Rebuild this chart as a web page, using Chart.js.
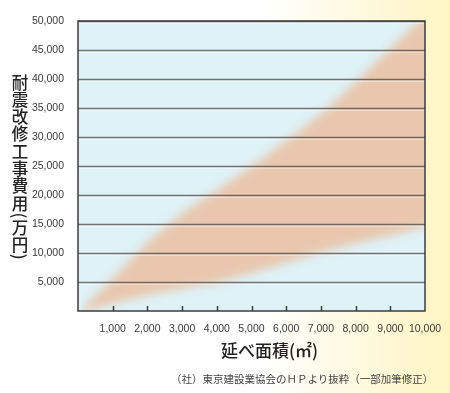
<!DOCTYPE html>
<html>
<head>
<meta charset="utf-8">
<script src="https://cdn.jsdelivr.net/npm/chart.js@4"></script>
<style>
  html, body { margin: 0; padding: 0; }
  body {
    width: 450px; height: 393px; overflow: hidden; position: relative;
    background: linear-gradient(to right, #ffffff 0%, #ffffff 58%, #fff4c2 100%);
    font-family: "Noto Sans CJK JP", sans-serif;
  }
  .chart-wrap { position: absolute; left: 0; top: 0; width: 450px; height: 393px; }
  .y-title {
    position: absolute; left: 11px; top: 74px;
    writing-mode: vertical-rl; font-size: 16.5px; line-height: 18px; letter-spacing: 0.8px;
    color: #222; font-weight: 500;
  }
  .x-title { position: absolute; left: 221px; top: 339px; font-size: 17px; line-height: 22px; color: #222; font-weight: 500; }
  .source { position: absolute; left: 171px; top: 371px; font-size: 10.5px; line-height: 16px; color: #444; }
</style>
</head>
<body>
<div class="chart-wrap"><canvas id="costChart"></canvas></div>
<div class="y-title">耐震改修工事費用(万円)</div>
<div class="x-title">延べ面積(㎡)</div>
<div class="source">（社）東京建設業協会のＨＰより抜粋（一部加筆修正）</div>

<script>
// floor area (m2) and estimated cost range (10k yen)
const areaX     = [100, 1000, 2000, 3000, 4000, 5000, 6000, 7000, 8000, 9000, 10000, 10600];
const upperCost = [300, 5600, 11800, 16800, 20800, 25000, 29400, 34000, 39500, 45300, 51000, 54000];
const lowerCost = [-300, 1300, 2700, 3900, 4900, 6500, 8300, 10100, 11600, 13000, 14500, 15300];
const yTicks = [5000, 10000, 15000, 20000, 25000, 30000, 35000, 40000, 45000, 50000];
const xTicks = [1000, 2000, 3000, 4000, 5000, 6000, 7000, 8000, 9000];

const toPoints = (ys) => areaX.map((x, i) => ({ x: x, y: ys[i] }));

const frame = {
  id: "frame",
  beforeDraw(chart) {
    const { ctx, chartArea: a } = chart;
    ctx.save();
    ctx.fillStyle = "#dff2f8";
    ctx.fillRect(a.left, a.top, a.right - a.left, a.bottom - a.top);
    ctx.restore();
  },
  beforeDatasetsDraw(chart) {
    chart.ctx.save();
    chart.ctx.filter = "blur(5px)";
  },
  afterDatasetsDraw(chart) {
    const { ctx, chartArea: a, scales } = chart;
    ctx.restore();
    ctx.save();
    yTicks.forEach((v) => {
      const y = Math.round(scales.y.getPixelForValue(v)) + 0.5;
      ctx.strokeStyle = "rgba(255,255,255,0.75)";
      ctx.lineWidth = 1;
      ctx.beginPath(); ctx.moveTo(a.left, y + 1.5); ctx.lineTo(a.right, y + 1.5); ctx.stroke();
      ctx.strokeStyle = "rgba(70,62,60,0.72)";
      ctx.lineWidth = 1.5;
      ctx.beginPath(); ctx.moveTo(a.left, y); ctx.lineTo(a.right, y); ctx.stroke();
    });
    ctx.strokeStyle = "#3c3c3c";
    ctx.lineWidth = 1.5;
    xTicks.forEach((v) => {
      const x = Math.round(scales.x.getPixelForValue(v)) + 0.5;
      ctx.beginPath(); ctx.moveTo(x, a.bottom); ctx.lineTo(x, a.bottom - 5); ctx.stroke();
    });
    ctx.strokeRect(a.left, a.top, a.right - a.left, a.bottom - a.top);
    ctx.restore();
  },
};

new Chart(document.getElementById("costChart"), {
  type: "line",
  data: {
    datasets: [
      { data: toPoints(lowerCost), fill: false, borderWidth: 0, pointRadius: 0, tension: 0.3 },
      { data: toPoints(upperCost), fill: "-1", backgroundColor: "#e8c7ae", borderWidth: 0, pointRadius: 0, tension: 0.3 },
    ],
  },
  options: {
    responsive: true,
    maintainAspectRatio: false,
    animation: false,
    layout: { padding: { left: 0, top: 21, right: 25, bottom: 0 } },
    plugins: { legend: { display: false }, tooltip: { enabled: false } },
    scales: {
      x: {
        type: "linear", min: 0, max: 10000,
        grid: { display: false }, border: { display: false },
        ticks: {
          stepSize: 1000, autoSkip: false, maxRotation: 0, padding: 4,
          color: "#3a3a3a", font: { family: "Liberation Sans", size: 10.5 },
          callback: (v) => (v === 0 ? "" : v.toLocaleString("en-US")),
        },
        afterFit: (s) => { s.height = 82; },
      },
      y: {
        min: 0, max: 50000,
        grid: { display: false }, border: { display: false },
        ticks: {
          stepSize: 5000, padding: 6,
          color: "#3a3a3a", font: { family: "Liberation Sans", size: 10.5 },
          callback: (v) => (v === 0 ? "" : v.toLocaleString("en-US")),
        },
        afterFit: (s) => { s.width = 78; },
      },
    },
  },
  plugins: [frame],
});
</script>
</body>
</html>
